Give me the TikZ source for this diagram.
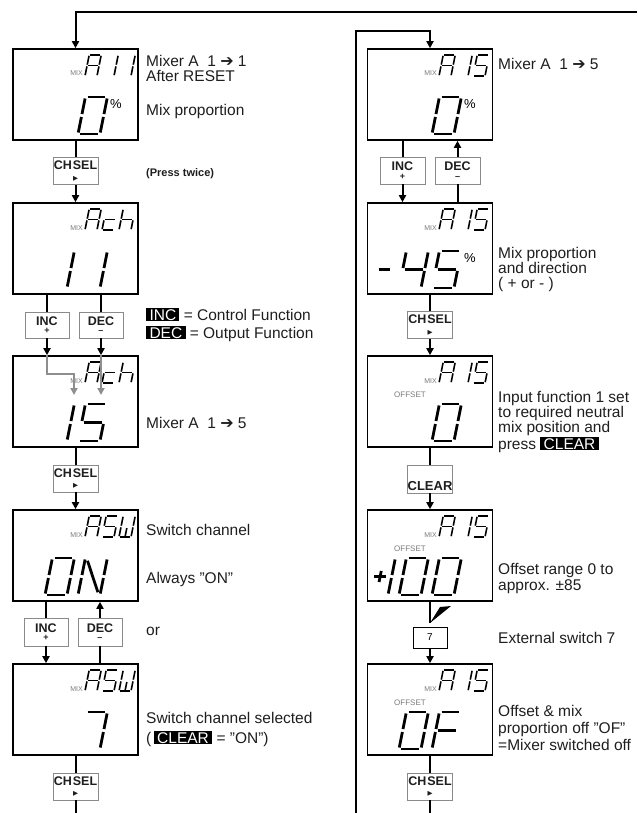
\documentclass[tikz,border=0pt]{standalone}
\usepackage{fontspec}
\setmainfont{Liberation Sans}
\newfontfamily\symfont{DejaVu Sans}
\usetikzlibrary{arrows.meta,positioning,calc}
\definecolor{btngray}{HTML}{8A8A8A}
\definecolor{lcdgray}{HTML}{7A7A7A}
\definecolor{arrowgray}{HTML}{8E8E8E}
\definecolor{txtdark}{HTML}{1E1E1E}

% seven segment cell, width 1 and height 2
\pgfkeys{
  /lcd/a/.initial={(0.1,2)--(0.9,2)},
  /lcd/b/.initial={(1,1.92)--(1,1.08)},
  /lcd/c/.initial={(1,0.92)--(1,0.08)},
  /lcd/d/.initial={(0.1,0)--(0.9,0)},
  /lcd/e/.initial={(0,0.92)--(0,0.08)},
  /lcd/f/.initial={(0,1.92)--(0,1.08)},
  /lcd/g/.initial={(0.1,1)--(0.9,1)},
  /lcd/n/.initial={(0.12,1.85)--(0.88,0.15)},
  /lcd/w/.initial={(0.5,0.85)--(0.5,0.08)},
  /lcd/m/.initial={(0.4,1)--(0.9,1)},
  /lcd/p/.initial={(0.2,1)--(0.75,1)},
  /lcd/q/.initial={(0.475,0.7)--(0.475,1.3)},
}
\def\glA{a,b,c,e,f,g}
\def\glI{b,c}
\def\glc{d,e,g}
\def\glh{c,e,f,g}
\def\glS{a,c,d,f,g}
\def\glW{b,c,d,e,f,w}
\def\glO{a,b,c,d,e,f}
\def\glN{b,c,e,f,n}
\def\glVII{a,b,c}
\def\glIV{b,c,f,g}
\def\glF{a,e,f,g}
\def\glminus{m}
\def\glplus{p,q}

\newcommand\lcd[5]{%
  \edef\seglist{#5}%
  \begin{scope}[shift={(#1,#2)}, x={(#3pt,0pt)}, y={(0pt,#4pt/2)}, xslant=0.2, line width={0.075*#4pt}]
    \foreach \s in \seglist {\pgfkeysgetvalue{/lcd/\s}\segpath \draw \segpath;}
  \end{scope}}
% #1 right edge of box, #2 top of box, #3 cell from the right, #4 segments
\newcommand\topch[4]{\lcd{#1-19-17*#3}{#2+27}{12}{21}{#4}}
\newcommand\bigch[4]{\lcd{#1-60-33*#3}{#2+85}{22}{37}{#4}}

\newcommand\keylab[1]{{\setlength\fboxsep{1.3pt}\colorbox{black}{\textcolor{white}{\hspace{2pt}#1\hspace{2pt}}}}}
\newcommand\tri{{\symfont\fontsize{6.5}{6.5}\selectfont ▶}}
\newcommand\rarr{{\symfont\fontsize{16}{15}\selectfont ➔}}

\begin{document}
\begin{tikzpicture}[x=1pt, y=-1pt,
  lcdbox/.style={draw, line width=1.6pt, minimum width=125pt, minimum height=91pt, inner sep=0pt},
  btn/.style={draw=btngray, line width=0.8pt, fill=white, inner sep=0pt, minimum width=45pt,
    minimum height=27pt, font=\fontsize{12.5}{10.5}\selectfont\bfseries, align=center, text=txtdark},
  flow/.style={line width=2pt},
  grayflow/.style={line width=1.8pt, draw=arrowgray, arrows={-Triangle[length=7pt,width=7pt]}, arrowgray},
  txt/.style={inner sep=0pt, font=\fontsize{15.5}{15}\selectfont, align=left, text=txtdark, anchor=base west},
  mixtxt/.style={inner sep=0pt, font=\fontsize{7}{7}\selectfont, text=lcdgray, anchor=base east},
  offtxt/.style={inner sep=0pt, font=\fontsize{8}{8}\selectfont, text=lcdgray, anchor=base west},
  pct/.style={inner sep=0pt, font=\fontsize{13}{13}\selectfont, anchor=base west},
  >={Triangle[length=7pt,width=7pt]}]
\useasboundingbox (0,0) rectangle (637,813);

% display boxes
\foreach \i/\t in {1/49,2/203,3/356,4/510,5/664} {
  \node[lcdbox] (l\i) at (75.5,\t+45.5) {};
  \node[lcdbox] (r\i) at (430,\t+45.5) {};
  \node[mixtxt] (ml\i) at (138-55,\t+27) {MIX};
  \node[mixtxt] (mr\i) at (492-55,\t+27) {MIX};
  \topch{492}{\t}{2}{\glA}
  \topch{492}{\t}{1}{\glI}
  \topch{492}{\t}{0}{\glS}
}

% left column readings
\topch{138}{49}{2}{\glA} \topch{138}{49}{1}{\glI} \topch{138}{49}{0}{\glI}
\bigch{138}{49}{0}{\glO}
\node[pct] (pl1) at (138-28,49+60) {\%};
\topch{138}{203}{2}{\glA} \topch{138}{203}{1}{\glc} \topch{138}{203}{0}{\glh}
\bigch{138}{203}{1}{\glI} \bigch{138}{203}{0}{\glI}
\topch{138}{356}{2}{\glA} \topch{138}{356}{1}{\glc} \topch{138}{356}{0}{\glh}
\bigch{138}{356}{1}{\glI} \bigch{138}{356}{0}{\glS}
\topch{138}{510}{2}{\glA} \topch{138}{510}{1}{\glS} \topch{138}{510}{0}{\glW}
\bigch{138}{510}{1}{\glO} \bigch{138}{510}{0}{\glN}
\topch{138}{664}{2}{\glA} \topch{138}{664}{1}{\glS} \topch{138}{664}{0}{\glW}
\bigch{138}{664}{0}{\glVII}

% right column readings
\bigch{492}{49}{0}{\glO}
\node[pct] (pr1) at (492-28,49+60) {\%};
\bigch{492}{203}{2}{\glminus} \bigch{492}{203}{1}{\glIV} \bigch{492}{203}{0}{\glS}
\node[pct] (pr2) at (492-28,203+59) {\%};
\foreach \t in {356,510,664}
  \node[offtxt] (off\t) at (492-98,\t+41) {OFFSET};
\bigch{492}{356}{0}{\glO}
\bigch{492}{510}{2}{\glplus} \bigch{492}{510}{2}{\glI} \bigch{492}{510}{1}{\glO} \bigch{492}{510}{0}{\glO}
\bigch{492}{664}{1}{\glO} \bigch{492}{664}{0}{\glF}

% keys
\node[btn] (cs1) at (75.5,171) {CH\hspace{1pt}SEL\\\tri};
\node[btn, minimum width=44pt, minimum height=26pt] (inc1) at (47,325) {INC\\[-2pt]{\fontsize{9}{9}\selectfont +}};
\node[btn, minimum width=44pt, minimum height=26pt] (dec1) at (101,325) {DEC\\[-2pt]{\fontsize{9}{9}\selectfont –}};
\node[btn] (cs2) at (75.5,478.5) {CH\hspace{1pt}SEL\\\tri};
\node[btn, minimum width=44pt, minimum height=28pt] (inc2) at (46,632) {INC\\[-2pt]{\fontsize{9}{9}\selectfont +}};
\node[btn, minimum width=44pt, minimum height=28pt] (dec2) at (100,632) {DEC\\[-2pt]{\fontsize{9}{9}\selectfont –}};
\node[btn] (cs3) at (75.5,786.5) {CH\hspace{1pt}SEL\\\tri};
\node[btn, minimum width=45pt] (inc3) at (402.5,170.5) {INC\\[-2pt]{\fontsize{9}{9}\selectfont +}};
\node[btn, minimum width=45pt] (dec3) at (457.5,170.5) {DEC\\[-2pt]{\fontsize{9}{9}\selectfont –}};
\node[btn] (cs4) at (430,325) {CH\hspace{1pt}SEL\\\tri};
\node[btn, minimum height=28pt, text height=22pt, text depth=0pt, font=\fontsize{13}{12}\selectfont\bfseries] (clr) at (430,479) {CLEAR};
\node[draw, line width=0.8pt, minimum width=34pt, minimum height=21pt, inner sep=0pt, font=\fontsize{10}{10}\selectfont] (sw7) at (430,637.5) {7};
\node[btn] (cs5) at (430,786.5) {CH\hspace{1pt}SEL\\\tri};

\coordinate (topend) at (637,12);
\coordinate (lend) at (75.5,813);
\coordinate (rloop) at (356,813);
\coordinate (rend) at (430,813);
\coordinate (pivot) at (430,623);
\coordinate (gtip) at (74,395);

% left column flow
\draw[flow,->] (topend) -| (l1.north);
\draw[flow] (l1) -- (cs1);
\draw[flow,->] (cs1) -- (l2);
\draw[flow] (inc1 |- l2.south) -- (inc1);
\draw[flow,->] (inc1) -- (inc1 |- l3.north);
\draw[flow] (dec1 |- l2.south) -- (dec1);
\draw[flow,->] (dec1) -- (dec1 |- l3.north);
\draw[grayflow] (inc1 |- l3.north) -- ++(0,19) -| (gtip);
\draw[grayflow] (dec1 |- l3.north) -- (dec1 |- gtip);
\draw[flow] (l3) -- (cs2);
\draw[flow,->] (cs2) -- (l4);
\draw[flow] (inc2 |- l4.south) -- (inc2);
\draw[flow,->] (inc2) -- (inc2 |- l5.north);
\draw[flow] (dec2 |- l5.north) -- (dec2);
\draw[flow,->] (dec2) -- (dec2 |- l4.south);
\draw[flow] (l5) -- (cs3);
\draw[flow] (cs3) -- (lend);

% right column flow
\draw[flow,->] (rloop) |- ($(r1.north)+(0,-17)$) -- (r1.north);
\draw[flow] (inc3 |- r1.south) -- (inc3);
\draw[flow,->] (inc3) -- (inc3 |- r2.north);
\draw[flow] (dec3 |- r2.north) -- (dec3);
\draw[flow,->] (dec3) -- (dec3 |- r1.south);
\draw[flow] (r2) -- (cs4);
\draw[flow,->] (cs4) -- (r3);
\draw[flow] (r3) -- (clr);
\draw[flow,->] (clr) -- (r4);
\draw[flow] (r4) -- (pivot);
\fill (pivot) -- (440,607) -- (451,606) -- cycle;
\draw[flow,->] (sw7) -- (r5);
\draw[flow] (r5) -- (cs5);
\draw[flow] (cs5) -- (rend);

% notes, left (base of a multi-line note = its last line)
\node[txt] (t1) at (146,82) {Mixer A\ \ 1 \rarr\ 1\\After RESET};
\node[txt] (t2) at (146,116) {Mix proportion};
\node[txt, font=\fontsize{11}{11}\selectfont\bfseries] (t3) at (146,176) {(Press twice)};
\node[txt] (leg1) at (146,320) {\keylab{INC} = Control Function};
\node[txt] (leg2) at (146,338) {\keylab{DEC} = Output Function};
\node[txt] (t4) at (146,428) {Mixer A\ \ 1 \rarr\ 5};
\node[txt] (t5) at (146,535) {Switch channel};
\node[txt] (t6) at (146,583) {Always "ON"};
\node[txt] (t7) at (146,635) {or};
\node[txt] (t8) at (146,723) {Switch channel selected};
\node[txt] (t9) at (146,743) {(\,\keylab{CLEAR} = "ON")};

% notes, right
\node[txt] (u1) at (498,70) {Mixer A\ \ 1 \rarr\ 5};
\node[txt] (u2) at (498,288) {Mix proportion\\and direction\\( + or - )};
\node[txt] (u3) at (498,449) {Input function 1 set\\to required neutral\\mix position and\\press \keylab{CLEAR}};
\node[txt] (u4) at (498,590) {Offset range 0 to\\[1pt]approx. ±85};
\node[txt] (u5) at (498,643) {External switch 7};
\node[txt] (u6) at (498,750) {Offset \& mix\\[2pt]proportion off "OF"\\[2pt]=Mixer switched off};
\end{tikzpicture}
\end{document}
